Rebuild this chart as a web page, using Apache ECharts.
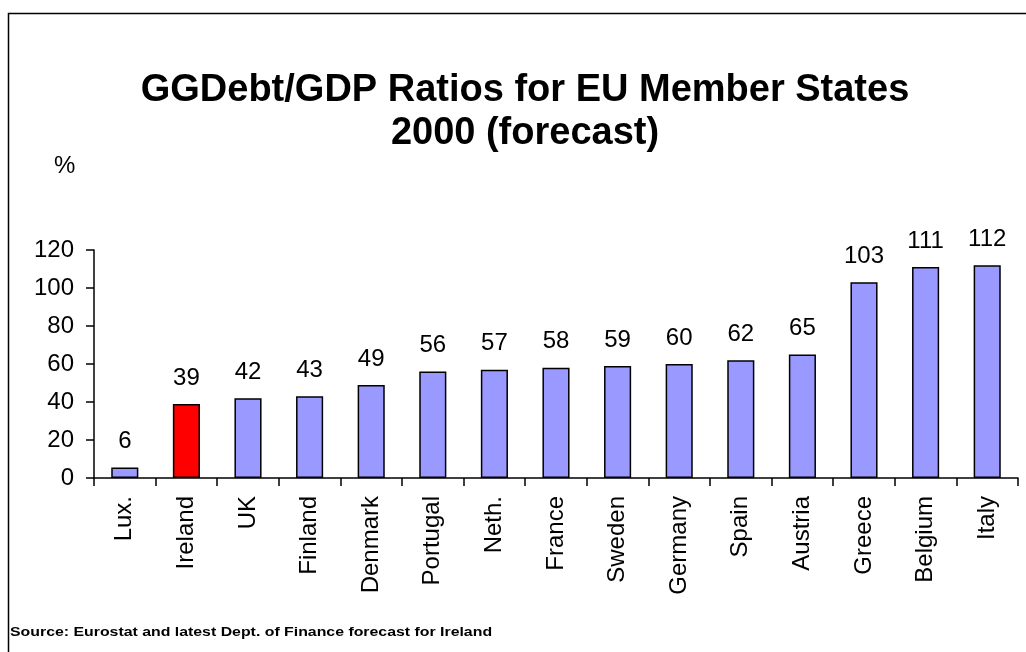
<!DOCTYPE html>
<html><head><meta charset="utf-8">
<script src="https://cdn.jsdelivr.net/npm/echarts@6/dist/echarts.min.js"></script>
<style>html,body{margin:0;padding:0;background:#fff}#c{width:1026px;height:652px}</style>
</head><body><div id="c"></div>
<script>
const categories = ['Lux.','Ireland','UK','Finland','Denmark','Portugal','Neth.','France','Sweden','Germany','Spain','Austria','Greece','Belgium','Italy'];
const barValues = [5.5,39,42,43,49,56,57,58,59,60,62,65,103,111,112];
const labelValues = [6,39,42,43,49,56,57,58,59,60,62,65,103,111,112];
const highlightCategory = 'Ireland';
const yTicks = [0,20,40,60,80,100,120];

const FONT = '"Liberation Sans", Arial, sans-serif';
const chart = echarts.init(document.getElementById('c'));
chart.setOption({
  animation: false,
  backgroundColor: '#fff',
  graphic: [
    {type: 'rect', shape: {x: 8.5, y: 13.5, width: 1030, height: 660}, style: {fill: 'none', stroke: '#000', lineWidth: 1.5}, silent: true},
    {type: 'text', x: 525, y: 69, style: {text: 'GGDebt/GDP Ratios for EU Member States\n2000 (forecast)', font: 'bold 38px ' + FONT, lineHeight: 43, fill: '#000', align: 'center', verticalAlign: 'top'}},
    {type: 'text', left: 54, top: 154, style: {text: '%', font: '24px ' + FONT, fill: '#000'}},
    {type: 'text', x: 10, y: 626, scaleX: 1.22, style: {text: 'Source: Eurostat and latest Dept. of Finance forecast for Ireland', font: 'bold 13px ' + FONT, fill: '#000'}}
  ],
  grid: {left: 94, right: 8, top: 250, bottom: 174, containLabel: false},
  xAxis: {
    type: 'category', data: categories,
    axisLine: {lineStyle: {color: '#000', width: 1.5}},
    axisTick: {show: true, length: 8, lineStyle: {color: '#000', width: 1.5}},
    axisLabel: {rotate: 90, margin: 18, fontFamily: FONT, fontSize: 24, color: '#000', interval: 0}
  },
  yAxis: {
    type: 'value', min: yTicks[0], max: yTicks[yTicks.length-1], interval: 20,
    splitLine: {show: false},
    axisLine: {show: true, lineStyle: {color: '#000', width: 1.5}},
    axisTick: {show: true, length: 8, lineStyle: {color: '#000', width: 1.5}},
    axisLabel: {margin: 20, fontFamily: FONT, fontSize: 24, color: '#000'}
  },
  series: [{
    type: 'bar',
    barWidth: '44%',
    data: barValues.map((v, i) => ({
      value: v,
      itemStyle: {color: categories[i] === highlightCategory ? '#FF0000' : '#9999FF', borderColor: '#000', borderWidth: 1.5}
    })),
    label: {
      show: true, position: 'top', distance: 14,
      fontFamily: FONT, fontSize: 24, color: '#000',
      formatter: p => String(labelValues[p.dataIndex])
    }
  }]
});
</script></body></html>
